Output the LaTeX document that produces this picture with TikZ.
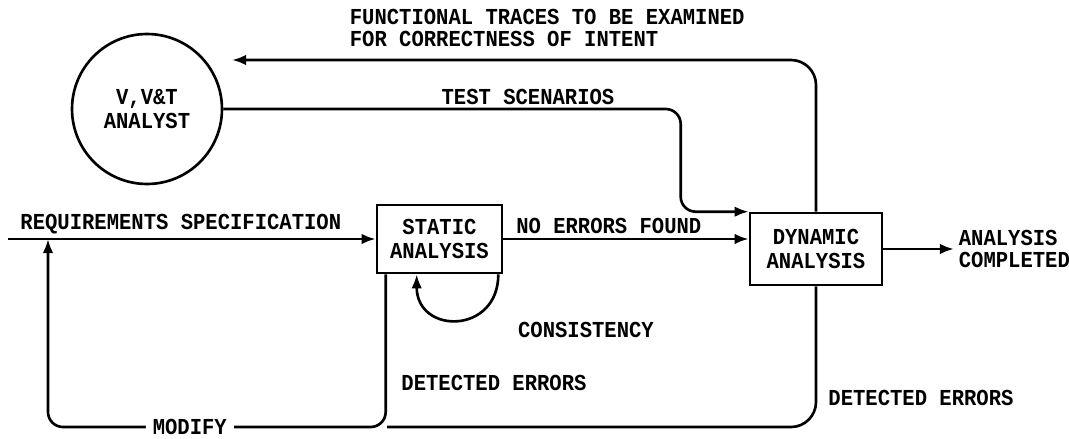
\documentclass[tikz,border=0pt]{standalone}
\usepackage{fontspec}
\newfontfamily\typefont{Liberation Mono}[FakeStretch=0.9]
\usetikzlibrary{calc,arrows.meta}

\begin{document}
\begin{tikzpicture}[x=0.02cm,y=-0.02cm,line width=1.5pt,>={Latex[length=8pt,width=6pt]},
    font=\typefont\bfseries\fontsize{13pt}{14pt}\selectfont,
    proc/.style={draw,align=center,inner sep=0pt},
    lbl/.style={inner sep=2pt}]
  \useasboundingbox (0,0) rectangle (1069,439);
  \node[proc,circle,minimum size=3cm] (analyst) at (147,109) {V,V\&T\\ANALYST};
  \node[proc,minimum width=2.5cm,minimum height=1.36cm] (static) at (439.5,239) {STATIC\\ANALYSIS};
  \node[proc,minimum width=2.64cm,minimum height=1.44cm] (dyn) at (816,249) {DYNAMIC\\ANALYSIS};
  \node[lbl,anchor=west,align=left] (done) at (954,249) {ANALYSIS\\[-2pt]COMPLETED};
  \coordinate (reqin) at (8,239);
  \coordinate (join) at (48,239);
  \coordinate (lowleft) at (48,427);
  \coordinate (merge) at (387,427);
  \coordinate (ftend) at (232,60);
  % inputs and the two loops back
  \draw[->] (reqin) -- (static.west) node[lbl,pos=0.47,above]{REQUIREMENTS SPECIFICATION};
  \draw[->,rounded corners=0.3cm] ($(static.south west)+(10,0)$) |- node[pos=0.79,fill=white,inner xsep=4pt]{MODIFY} (lowleft) -- (join);
  \draw[rounded corners=0.5cm] (dyn.south) |- (merge);
  \draw[->] ($(static.south east)+(-5,0)$) to[out=-90,in=-90,looseness=1.9] ($(static.south west)+(41,0)$);
  \draw[->] (static.east) -- (static.east -| dyn.west) node[lbl,pos=0.43,above]{NO ERRORS FOUND};
  \draw[->] (dyn.east) -- (done.west);
  % analyst
  \draw[->,rounded corners=0.3cm] (analyst.east) -| ($(dyn.north west)+(-68,0)$) -- (dyn.north west);
  \draw[->,rounded corners=0.5cm] (dyn.north) |- (ftend);
  \node[lbl] (tslabel) at (528,97) {TEST SCENARIOS};
  \node[lbl,anchor=west,align=left] (ftlabel) at (345,28) {FUNCTIONAL TRACES TO BE EXAMINED\\[-1pt]FOR CORRECTNESS OF INTENT};
  \node[lbl] (conslabel) at (586,330) {CONSISTENCY};
  \node[lbl] (errstatic) at (494,383) {DETECTED ERRORS};
  \node[lbl] (errdyn) at (921,398) {DETECTED ERRORS};
\end{tikzpicture}
\end{document}
